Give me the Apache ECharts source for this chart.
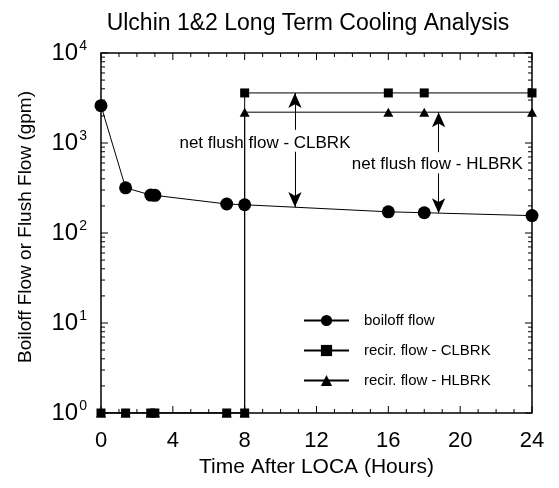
<!DOCTYPE html>
<html>
<head>
<meta charset="utf-8">
<script src="https://cdn.jsdelivr.net/npm/echarts@6/dist/echarts.min.js"></script>
<style>
html, body { margin: 0; padding: 0; background: #fff; }
#chart { width: 559px; height: 488px; }
</style>
</head>
<body>
<div id="chart"></div>
<script>
// time after LOCA (hours)
var hours = [0, 1.37, 2.77, 3, 7, 8]
var hoursLate = [8, 16, 18, 24]
// boiloff flow (gpm)
var boiloff = [2600, 318, 264, 262, 210, 206, 172, 168, 156]
var boiloffHours = [0, 1.37, 2.77, 3, 7, 8, 16, 18, 24]
// recirculation flows (gpm), 1 = no flow before 8 h
var recirEarly = [1, 1, 1, 1, 1, 1]
var recirCL = [3600, 3600, 3600, 3600]
var recirHL = [2200, 2200, 2200, 2200]
// axis ticks
var xMajor = [0, 4, 8, 12, 16, 20, 24]
var xMinor = [1, 2, 3, 5, 6, 7, 9, 10, 11, 13, 14, 15, 17, 18, 19, 21, 22, 23]
var yMajor = [1, 10, 100, 1000, 10000]
var yMinorMult = [2, 3, 4, 5, 6, 7, 8, 9]
var yDecades = [1, 10, 100, 1000]

var font = 'Liberation Sans, Arial, sans-serif'

function pairs (xs, ys) {
  var out = []
  for (var i = 0; i < xs.length; i++) out.push([xs[i], ys[i]])
  return out
}

var clData = pairs(hours, recirEarly).concat(pairs(hoursLate, recirCL))
var hlData = pairs(hours, recirEarly).concat(pairs(hoursLate, recirHL))
var boilData = pairs(boiloffHours, boiloff)

var arrowLine = { color: '#000', width: 1, type: 'solid' }

// plot frame with inward ticks on all four sides, placed through the axes
function renderFrame (params, api) {
  var tl = api.coord([0, 10000])
  var br = api.coord([24, 1])
  var kids = [{
    type: 'rect',
    shape: { x: tl[0], y: tl[1], width: br[0] - tl[0], height: br[1] - tl[1] },
    style: { fill: 'none', stroke: '#000', lineWidth: 1.5 }
  }]
  function seg (x1, y1, x2, y2) {
    kids.push({ type: 'line', shape: { x1: x1, y1: y1, x2: x2, y2: y2 }, style: { stroke: '#000', lineWidth: 1 } })
  }
  function xTick (v, len) {
    var x = api.coord([v, 1])[0]
    seg(x, br[1], x, br[1] - len)
    seg(x, tl[1], x, tl[1] + len)
  }
  function yTick (v, len) {
    var y = api.coord([0, v])[1]
    seg(tl[0], y, tl[0] + len, y)
    seg(br[0], y, br[0] - len, y)
  }
  xMajor.forEach(function (v) { xTick(v, 7) })
  xMinor.forEach(function (v) { xTick(v, 4) })
  yMajor.forEach(function (v) { yTick(v, 7) })
  yDecades.forEach(function (d) {
    yMinorMult.forEach(function (m) { yTick(d * m, 4) })
  })
  return { type: 'group', children: kids }
}

var chart = echarts.init(document.getElementById('chart'))
var option = {
  animation: false,
  title: {
    text: 'Ulchin 1&2 Long Term Cooling Analysis',
    left: 303,
    textAlign: 'center',
    top: 7,
    textStyle: { fontFamily: font, fontSize: 23, fontWeight: 'normal', color: '#000' }
  },
  legend: {
    data: ['boiloff flow', 'recir. flow - CLBRK', 'recir. flow - HLBRK'],
    orient: 'vertical',
    left: 298,
    top: 308,
    itemWidth: 45,
    itemHeight: 14,
    itemGap: 15,
    textStyle: { fontFamily: font, fontSize: 15, color: '#000', padding: [0, 0, 0, 10] }
  },
  grid: { left: 101, right: 27, top: 53, bottom: 75 },
  xAxis: {
    type: 'value',
    min: 0,
    max: 24,
    interval: 4,
    name: 'Time After LOCA (Hours)',
    nameLocation: 'middle',
    nameGap: 38,
    nameTextStyle: { fontFamily: font, fontSize: 21, color: '#000' },
    axisLine: { show: false },
    axisTick: { show: false },
    splitLine: { show: false },
    axisLabel: { fontFamily: font, fontSize: 22, color: '#000', margin: 17 }
  },
  yAxis: {
    type: 'log',
    logBase: 10,
    min: 1,
    max: 10000,
    name: 'Boiloff Flow or Flush Flow (gpm)',
    nameLocation: 'middle',
    nameGap: 66,
    nameTextStyle: { fontFamily: font, fontSize: 19, color: '#000', padding: [0, 0, 0, 12] },
    axisLine: { show: false },
    axisTick: { show: false },
    splitLine: { show: false },
    axisLabel: {
      margin: 14,
      formatter: function (v) {
        return '{b|10}{s|' + Math.round(Math.log10(v)) + '}'
      },
      rich: {
        b: { fontFamily: font, fontSize: 24, color: '#000' },
        s: { fontFamily: font, fontSize: 14, color: '#000', verticalAlign: 'top', padding: [0, 0, 14, 1] }
      }
    }
  },
  series: [
    {
      name: 'frame',
      type: 'custom',
      silent: true,
      clip: false,
      z: 1,
      data: [[0, 1]],
      renderItem: renderFrame
    },
    {
      name: 'recir. flow - HLBRK',
      type: 'line',
      data: hlData,
      symbol: 'triangle',
      symbolSize: [10, 9],
      color: '#000',
      lineStyle: { color: '#000', width: 1 },
      itemStyle: { color: '#000' },
      markLine: {
        silent: true,
        symbolSize: [10, 15],
        label: { show: false },
        lineStyle: arrowLine,
        data: [
          [{ coord: [18.8, 2200], symbol: 'arrow' }, { coord: [18.8, 790], symbol: 'none' }],
          [{ coord: [18.8, 460], symbol: 'none' }, { coord: [18.8, 166], symbol: 'arrow' }]
        ]
      },
      markPoint: {
        silent: true,
        symbol: 'rect',
        symbolSize: 0,
        label: { show: true, position: 'inside', formatter: '{b}', fontFamily: font, fontSize: 17, color: '#000' },
        data: [{ name: 'net flush flow - HLBRK', coord: [18.73, 585] }]
      }
    },
    {
      name: 'recir. flow - CLBRK',
      type: 'line',
      data: clData,
      symbol: 'rect',
      symbolSize: 9,
      color: '#000',
      lineStyle: { color: '#000', width: 1 },
      itemStyle: { color: '#000' },
      markLine: {
        silent: true,
        symbolSize: [10, 15],
        label: { show: false },
        lineStyle: arrowLine,
        data: [
          [{ coord: [10.8, 3600], symbol: 'arrow' }, { coord: [10.8, 1400], symbol: 'none' }],
          [{ coord: [10.8, 800], symbol: 'none' }, { coord: [10.8, 194], symbol: 'arrow' }]
        ]
      },
      markPoint: {
        silent: true,
        symbol: 'rect',
        symbolSize: 0,
        label: { show: true, position: 'inside', formatter: '{b}', fontFamily: font, fontSize: 17, color: '#000' },
        data: [{ name: 'net flush flow - CLBRK', coord: [9.13, 1000] }]
      }
    },
    {
      name: 'boiloff flow',
      type: 'line',
      data: boilData,
      symbol: 'circle',
      symbolSize: 13,
      color: '#000',
      lineStyle: { color: '#000', width: 1 },
      itemStyle: { color: '#000' }
    }
  ]
}
chart.setOption(option)
</script>
</body>
</html>
